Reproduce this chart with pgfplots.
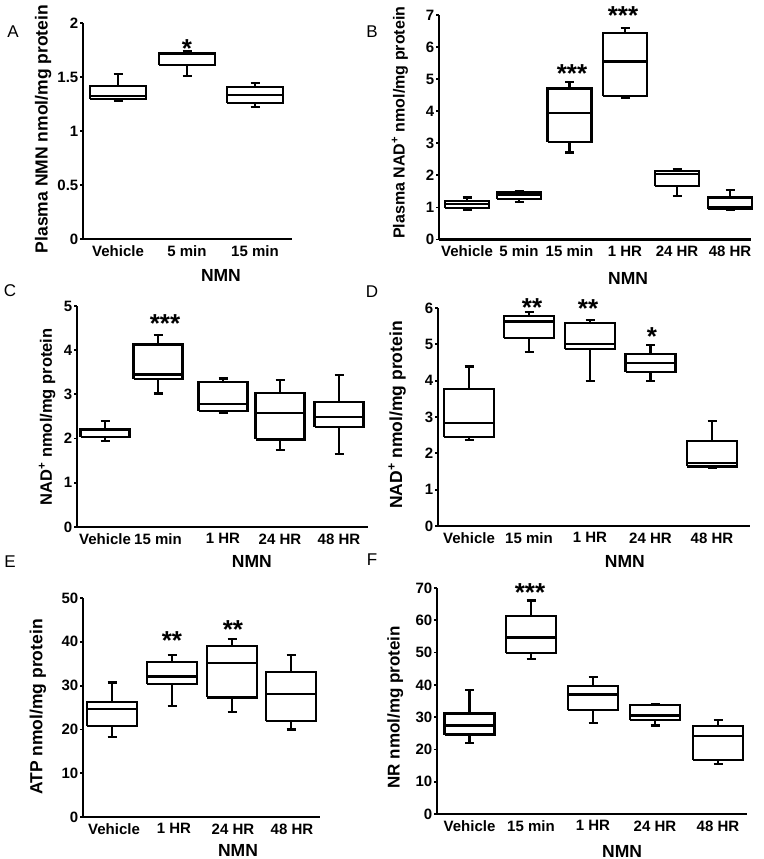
\documentclass[border=0pt]{standalone}
\usepackage{fontspec}
\setmainfont{Liberation Sans}
\usepackage{pgfplots}
\pgfplotsset{compat=1.18}

\pgfplotsset{
  panel/.style={
    scale only axis, anchor=south west,
    axis x line=bottom, axis y line=left,
    axis line style={-, line width=2.7pt},
    every outer x axis line/.append style={-},
    every outer y axis line/.append style={-},
    xmin=0, ymin=0, clip=false,
    tick align=outside, major tick length=3pt,
    xtick style={draw=none}, ytick style={line width=1.8pt, black},
    tick label style={font=\bfseries\fontsize{15}{17}\selectfont},
    yticklabel style={inner xsep=1.5pt},
    label style={font=\bfseries\fontsize{17.5}{20}\selectfont},
    ylabel style={anchor=center}, xlabel style={anchor=center},
    xlabel=NMN,
    /pgf/number format/assume math mode=true,
  },
  bx/.style={black, line width=2.2pt, mark=none, line join=miter, forget plot},
}
\def\bw{50}
% box at x: lower whisker, lower quartile, median, upper quartile, upper whisker
\newcommand{\bx}[6]{%
  \pgfmathsetmacro{\xl}{#1-\bw/2}\pgfmathsetmacro{\xr}{#1+\bw/2}%
  \pgfmathsetmacro{\cl}{#1-4.5}\pgfmathsetmacro{\cr}{#1+4.5}%
  \addplot[bx] coordinates {(\xl,#3)(\xr,#3)(\xr,#5)(\xl,#5)(\xl,#3)};
  \addplot[bx] coordinates {(\xl,#4)(\xr,#4)};
  \addplot[bx] coordinates {(#1,#5)(#1,#6)};
  \addplot[bx] coordinates {(\cl,#6)(\cr,#6)};
  \addplot[bx] coordinates {(#1,#3)(#1,#2)};
  \addplot[bx] coordinates {(\cl,#2)(\cr,#2)};
}
\newcommand{\sig}[3]{\node[font=\bfseries\fontsize{26}{26}\selectfont, anchor=base, yshift=-15pt] at (axis cs:#1,#2) {#3};}

\begin{document}
\begin{tikzpicture}
\useasboundingbox (0pt,0pt) rectangle (763pt,859pt);
\begin{scope}[font=\fontsize{17}{20}\selectfont]
\node at (13pt,827pt) {A};
\node at (372pt,827pt) {B};
\node at (10pt,568pt) {C};
\node at (372pt,567pt) {D};
\node at (10pt,297pt) {E};
\node at (372pt,299pt) {F};
\end{scope}

% A
\def\bw{56}
\begin{axis}[panel, at={(83pt,620pt)}, width=209pt, height=216pt, xmax=209, ymax=2,
  ytick={0,0.5,1,1.5,2}, xtick={35,104,172}, xticklabels={Vehicle,5 min,15 min},
  xlabel style={at={(axis description cs:0.66,0)}, yshift=-36pt},
  ylabel={Plasma NMN nmol/mg protein},
  ylabel style={at={(axis description cs:-0.191,0.509)}}]
\bx{35}{1.278}{1.296}{1.324}{1.417}{1.528}
\bx{104}{1.512}{1.611}{1.71}{1.725}{1.74}
\bx{172}{1.219}{1.262}{1.333}{1.405}{1.447}
\sig{104}{1.82}{*}
\end{axis}

% B
\def\bw{44}
\begin{axis}[panel, at={(439pt,619.5pt)}, width=312pt, height=224.5pt, xmax=312, ymax=7,
  ytick={0,1,...,7}, xtick={28,80,130.5,186,238,291},
  xticklabels={Vehicle,5 min,15 min,1 HR,24 HR,48 HR},
  xlabel style={at={(axis description cs:0.606,0)}, yshift=-38.5pt},
  ylabel={Plasma NAD\textsuperscript{+} nmol/mg protein},
  ylabel style={at={(axis description cs:-0.125,0.52)}, font=\bfseries\fontsize{16}{19}\selectfont}]
\bx{28}{0.92}{0.97}{1.10}{1.20}{1.31}
\bx{80}{1.18}{1.27}{1.40}{1.48}{1.51}
\bx{130.5}{2.71}{3.05}{3.95}{4.71}{4.92}
\bx{186}{4.42}{4.47}{5.55}{6.43}{6.59}
\bx{238}{1.36}{1.68}{2.04}{2.14}{2.20}
\bx{291}{0.92}{0.94}{1.01}{1.31}{1.55}
\sig{133}{5.35}{***}
\sig{184}{7.16}{***}
\end{axis}

% C
\def\bw{49}
\begin{axis}[panel, at={(77pt,332pt)}, width=291pt, height=221pt, xmax=291, ymax=5,
  ytick={0,1,...,5}, xtick={28,81,146,203,262},
  xticklabels={Vehicle,15 min,1 HR,24 HR,48 HR},
  xlabel style={at={(axis description cs:0.601,0)}, yshift=-34pt},
  ylabel={NAD\textsuperscript{+} nmol/mg protein},
  ylabel style={at={(axis description cs:-0.103,0.498)}, font=\bfseries\fontsize{16.5}{19}\selectfont}]
\bx{28}{1.95}{2.04}{2.19}{2.22}{2.40}
\bx{81}{3.02}{3.34}{3.45}{4.13}{4.34}
\bx{146}{2.58}{2.62}{2.79}{3.28}{3.36}
\bx{203}{1.75}{1.98}{2.58}{3.04}{3.32}
\bx{262}{1.66}{2.26}{2.49}{2.83}{3.43}
\sig{88}{4.73}{***}
\end{axis}

% D
\def\bw{50}
\begin{axis}[panel, at={(438pt,333pt)}, width=312pt, height=218pt, xmax=312, ymax=6,
  ytick={0,1,...,6}, xtick={31,91,152,212.5,274},
  xticklabels={Vehicle,15 min,1 HR,24 HR,48 HR},
  xlabel style={at={(axis description cs:0.599,0)}, yshift=-35pt},
  ylabel={NAD\textsuperscript{+} nmol/mg protein},
  ylabel style={at={(axis description cs:-0.131,0.509)}}]
\bx{31}{2.37}{2.44}{2.83}{3.78}{4.39}
\bx{91}{4.79}{5.17}{5.63}{5.79}{5.88}
\bx{152}{4.0}{4.87}{5.01}{5.59}{5.68}
\bx{212.5}{4.0}{4.24}{4.49}{4.73}{4.99}
\bx{274}{1.59}{1.64}{1.73}{2.34}{2.90}
\sig{94}{6.17}{**}
\sig{150}{6.14}{**}
\sig{214}{5.39}{*}
\end{axis}

% E
\def\bw{50}
\begin{axis}[panel, at={(83pt,42pt)}, width=237pt, height=219pt, xmax=237, ymax=50,
  ytick={0,10,...,50}, xtick={31,91,150,209},
  xticklabels={Vehicle,1 HR,24 HR,48 HR},
  xlabel style={at={(axis description cs:0.654,0)}, yshift=-33pt},
  ylabel={ATP nmol/mg protein},
  ylabel style={at={(axis description cs:-0.19,0.502)}}]
\bx{29}{18.2}{20.8}{24.6}{26.2}{30.7}
\bx{89}{25.4}{30.4}{32.1}{35.3}{37.0}
\bx{149}{24.0}{27.3}{35.1}{39.1}{40.6}
\bx{208}{20.0}{21.9}{28.1}{33.1}{37.0}
\sig{89}{41.6}{**}
\sig{150}{44.1}{**}
\end{axis}

% F
\def\bw{50}
\begin{axis}[panel, at={(437pt,45pt)}, width=310pt, height=226pt, xmax=310, ymax=70,
  ytick={0,10,...,70}, xtick={32.5,94,156,218,281},
  xticklabels={Vehicle,15 min,1 HR,24 HR,48 HR},
  xlabel style={at={(axis description cs:0.597,0)}, yshift=-37pt},
  ylabel={NR nmol/mg protein},
  ylabel style={at={(axis description cs:-0.135,0.473)}, font=\bfseries\fontsize{17}{20}\selectfont}]
\bx{32.5}{22.0}{24.6}{27.4}{31.1}{38.5}
\bx{94}{48.0}{49.9}{54.7}{61.4}{66.1}
\bx{156}{28.2}{32.3}{37.0}{39.7}{42.4}
\bx{218}{27.4}{29.0}{30.5}{33.8}{34.1}
\bx{281}{15.5}{16.8}{24.1}{27.2}{29.0}
\sig{93}{70.6}{***}
\end{axis}
\end{tikzpicture}
\end{document}
